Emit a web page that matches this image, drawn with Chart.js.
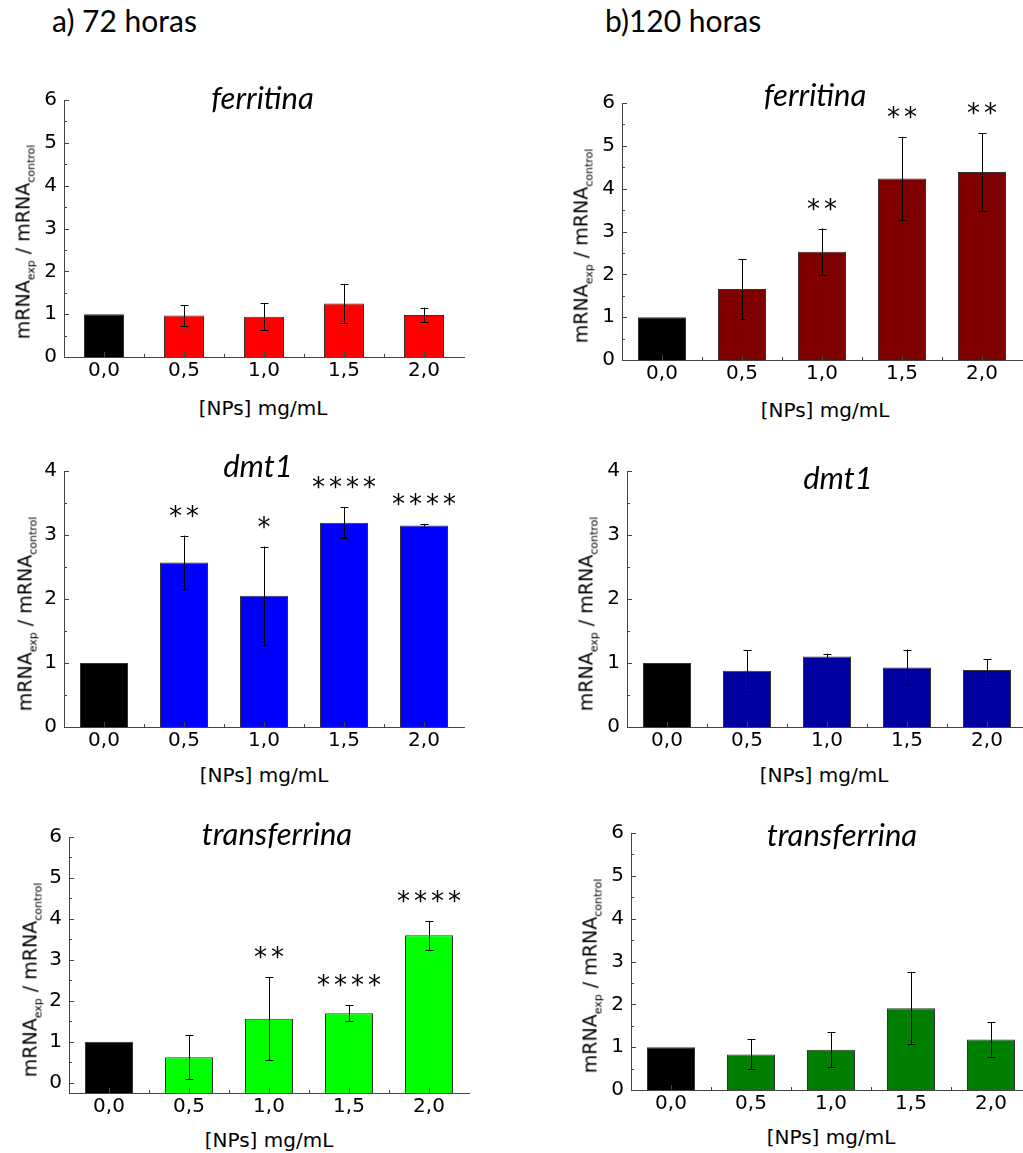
<!DOCTYPE html>
<html><head><meta charset="utf-8">
<script src="https://cdn.jsdelivr.net/npm/chart.js@4/dist/chart.umd.min.js"></script>
<style>
html,body{margin:0;padding:0;width:1023px;height:1153px;overflow:hidden;background:#fff;}
canvas{position:absolute;}
.hdr{position:absolute;font:30px Lato,sans-serif;color:#000;white-space:nowrap;line-height:1;}
.ttl{position:absolute;font:italic 31px Lato,sans-serif;color:#000;line-height:1;transform:translateX(-50%);white-space:nowrap;}
.xt{position:absolute;font:20px "DejaVu Sans";color:#000;line-height:1;transform:translate(-50%,-50%);white-space:nowrap;}
.yt{position:absolute;font:19px "DejaVu Sans";color:#000;line-height:19px;transform:translate(-50%,-50%) rotate(-90deg);white-space:nowrap;}
.yt sub{font-size:11px;vertical-align:-5px;line-height:0;}
</style></head><body>
<div class="hdr" style="left:52px;top:5px">a) 72 horas</div>
<div class="hdr" style="left:605px;top:5px">b)120 horas</div>
<div id="root"></div>
<script>
// ---- data ----
const categories = ['0,0', '0,5', '1,0', '1,5', '2,0'];

const ferritina72Mean = [1.00, 0.97, 0.94, 1.25, 0.98];
const ferritina72Err  = [0, 0.24, 0.31, 0.45, 0.17];
const ferritina72Sig  = ['', '', '', '', ''];

const ferritina120Mean = [1.00, 1.66, 2.53, 4.24, 4.39];
const ferritina120Err  = [0, 0.70, 0.54, 0.97, 0.91];
const ferritina120Sig  = ['', '', '**', '**', '**'];

const dmt172Mean = [1.00, 2.57, 2.05, 3.19, 3.15];
const dmt172Err  = [0, 0.42, 0.77, 0.24, 0.02];
const dmt172Sig  = ['', '**', '*', '****', '****'];

const dmt1120Mean = [1.00, 0.88, 1.10, 0.93, 0.89];
const dmt1120Err  = [0, 0.32, 0.045, 0.28, 0.165];
const dmt1120Sig  = ['', '', '', '', ''];

const transferrina72Mean = [1.00, 0.62, 1.56, 1.70, 3.60];
const transferrina72Err  = [0, 0.54, 1.01, 0.195, 0.35];
const transferrina72Sig  = ['', '', '**', '****', '****'];

const transferrina120Mean = [1.00, 0.83, 0.94, 1.91, 1.18];
const transferrina120Err  = [0, 0.35, 0.41, 0.845, 0.40];
const transferrina120Sig  = ['', '', '', '', ''];

const xAxisTitle = '[NPs] mg/mL';

// ---- layout / styles ----
const panels = [
  {gene:'ferritina', mean:ferritina72Mean, err:ferritina72Err, sig:ferritina72Sig, color:'#ff0000',
   l:64, r:464, t:100, b:357, min:0, max:6, bp:0.5, tx:262.5, tb:109, xx:263, xy:408, yx:22.5, yy:241.5},
  {gene:'ferritina', mean:ferritina120Mean, err:ferritina120Err, sig:ferritina120Sig, color:'#800000',
   l:622, r:1022, t:103, b:360, min:0, max:6, bp:0.6, tx:815, tb:106.7, xx:825, xy:410, yx:580.5, yy:245.5},
  {gene:'dmt1', mean:dmt172Mean, err:dmt172Err, sig:dmt172Sig, color:'#0000ff',
   l:64, r:464, t:471, b:727, min:0, max:4, bp:0.6, tx:258, tb:477, xx:264, xy:775, yx:24.5, yy:613.5},
  {gene:'dmt1', mean:dmt1120Mean, err:dmt1120Err, sig:dmt1120Sig, color:'#0000a0',
   l:627, r:1027, t:471, b:727, min:0, max:4, bp:0.6, tx:838, tb:489, xx:824, xy:775, yx:585.5, yy:613.5},
  {gene:'transferrina', mean:transferrina72Mean, err:transferrina72Err, sig:transferrina72Sig, color:'#00ff00',
   l:69, r:469, t:837, b:1093, min:-0.25, max:6, bp:0.6, tx:277, tb:845, xx:269, xy:1140, yx:29.5, yy:979.5},
  {gene:'transferrina', mean:transferrina120Mean, err:transferrina120Err, sig:transferrina120Sig, color:'#008000',
   l:631, r:1031, t:833, b:1090, min:0, max:6, bp:0.6, tx:842, tb:846.7, xx:831, xy:1137, yx:589.5, yy:975.5}
];

const L = 50, T = 20, R = 10, B = 30;

const decor = {
  id: 'decor',
  afterDatasetsDraw(chart, args, opts) {
    const ctx = chart.ctx, x = chart.scales.x, y = chart.scales.y, ca = chart.chartArea;
    const meta = chart.getDatasetMeta(0);
    ctx.save();
    // error bars
    ctx.strokeStyle = '#000'; ctx.lineWidth = 1;
    opts.err.forEach((e, i) => {
      if (!e) return;
      const m = opts.mean[i];
      const px = Math.round(meta.data[i].x) + 0.5;
      const y1 = y.getPixelForValue(m + e), y2 = y.getPixelForValue(m - e);
      ctx.beginPath();
      ctx.moveTo(px, y1); ctx.lineTo(px, y2);
      ctx.moveTo(px - 4, Math.round(y1) + 0.5); ctx.lineTo(px + 4, Math.round(y1) + 0.5);
      ctx.moveTo(px - 4, Math.round(y2) + 0.5); ctx.lineTo(px + 4, Math.round(y2) + 0.5);
      ctx.stroke();
    });
    // inward ticks
    ctx.strokeStyle = '#444';
    ctx.beginPath();
    for (let v = 0; v <= opts.max + 1e-9; v += 0.5) {
      const py = Math.round(y.getPixelForValue(v)) + 0.5;
      const len = Number.isInteger(v) ? 5 : 3;
      ctx.moveTo(ca.left, py); ctx.lineTo(ca.left + len, py);
    }
    const n = chart.data.labels.length;
    for (let i = 0; i < n; i++) {
      const px = Math.round(x.getPixelForValue(i)) + 0.5;
      ctx.moveTo(px, ca.bottom); ctx.lineTo(px, ca.bottom - 5);
      if (i < n - 1) {
        const mx = Math.round((x.getPixelForValue(i) + x.getPixelForValue(i + 1)) / 2) + 0.5;
        ctx.moveTo(mx, ca.bottom); ctx.lineTo(mx, ca.bottom - 3);
      }
    }
    ctx.stroke();
    // significance stars
    ctx.fillStyle = '#000';
    ctx.font = '26px "DejaVu Sans"';
    ctx.textAlign = 'center'; ctx.textBaseline = 'alphabetic';
    opts.sig.forEach((s, i) => {
      if (!s) return;
      const top = y.getPixelForValue(opts.mean[i] + opts.err[i]);
      const cx = meta.data[i].x;
      const k = s.length;
      for (let j = 0; j < k; j++) {
        ctx.fillText('*', cx + (j - (k - 1) / 2) * 17, top - 11);
      }
    });
    ctx.restore();
  }
};

const root = document.getElementById('root');
panels.forEach((p) => {
  const cv = document.createElement('canvas');
  const w = L + (p.r - p.l) + R, h = T + (p.b - p.t) + B;
  cv.width = w; cv.height = h;
  cv.style.left = (p.l - L) + 'px'; cv.style.top = (p.t - T) + 'px';
  cv.style.width = w + 'px'; cv.style.height = h + 'px';
  root.appendChild(cv);

  const ttl = document.createElement('div');
  ttl.className = 'ttl'; ttl.textContent = p.gene;
  ttl.style.left = p.tx + 'px'; ttl.style.top = (p.tb - 27.5) + 'px';
  root.appendChild(ttl);

  const xt = document.createElement('div');
  xt.className = 'xt'; xt.textContent = xAxisTitle;
  xt.style.left = p.xx + 'px'; xt.style.top = p.xy + 'px';
  root.appendChild(xt);

  const yt = document.createElement('div');
  yt.className = 'yt'; yt.innerHTML = 'mRNA<sub>exp</sub> / mRNA<sub>control</sub>';
  yt.style.left = p.yx + 'px'; yt.style.top = p.yy + 'px';
  root.appendChild(yt);

  const colors = p.mean.map((_, i) => i === 0 ? '#000000' : p.color);
  new Chart(cv, {
    type: 'bar',
    data: {
      labels: categories,
      datasets: [{
        data: p.mean,
        backgroundColor: colors,
        borderColor: '#333',
        borderWidth: 1,
        barPercentage: p.bp,
        categoryPercentage: 1,
        base: p.min
      }]
    },
    options: {
      responsive: false,
      animation: false,
      devicePixelRatio: 1,
      layout: {padding: {left: 0, top: T, right: R, bottom: 0}},
      plugins: {
        legend: {display: false},
        tooltip: {enabled: false},
        decor: {mean: p.mean, err: p.err, sig: p.sig, max: p.max}
      },
      scales: {
        x: {
          type: 'category',
          offset: true,
          grid: {display: false, drawTicks: false},
          border: {display: true, color: '#444', width: 1},
          ticks: {font: {family: 'DejaVu Sans', size: 20}, color: '#000', padding: 2, maxRotation: 0, autoSkip: false},
          afterFit: s => { s.height = B; }
        },
        y: {
          min: p.min, max: p.max,
          grid: {display: false, drawTicks: false},
          border: {display: true, color: '#444', width: 1},
          ticks: {font: {family: 'DejaVu Sans', size: 20}, color: '#000', padding: 7},
          afterBuildTicks: s => {
            const t = [];
            for (let v = 0; v <= p.max; v++) t.push({value: v});
            s.ticks = t;
          },
          afterFit: s => { s.width = L; }
        }
      }
    },
    plugins: [decor]
  });
});
</script>
</body></html>
